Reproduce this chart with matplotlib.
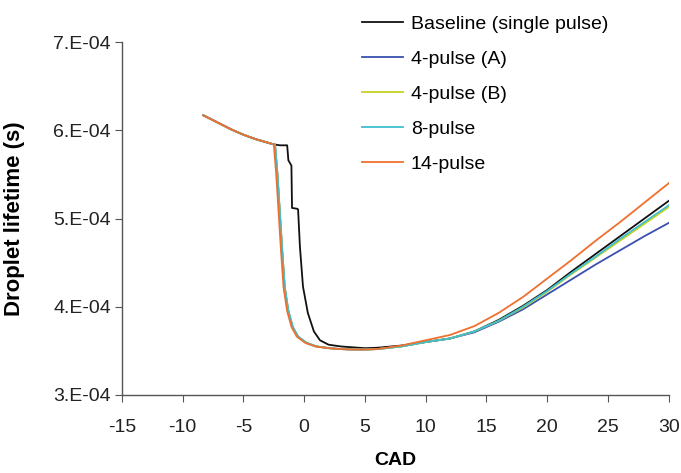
import matplotlib
matplotlib.use('Agg')
import matplotlib.pyplot as plt
from matplotlib.ticker import FixedLocator, FuncFormatter

plt.rcParams['font.family'] = ['Liberation Sans', 'DejaVu Sans']
plt.rcParams['axes.unicode_minus'] = False

# shared early part (before injection effect), lifetime in 1e-4 s
cad_early  = [-8.3, -7.0, -6.0, -5.0, -4.0, -3.0, -2.5]
life_early = [6.17, 6.08, 6.01, 5.95, 5.90, 5.86, 5.84]

cad_late = [8.0, 10.0, 12.0, 14.0, 16.0, 18.0, 20.0, 22.0, 24.0, 26.0, 28.0, 30.0]

cad_base = cad_early + [-2.0, -1.4, -1.3, -1.05, -1.0, -0.55, -0.5, -0.35, -0.1, 0.3, 0.8,
                        1.3, 2.0, 3.0, 4.0, 5.0, 6.0] + cad_late
life_base = life_early + [5.83, 5.83, 5.66, 5.60, 5.12, 5.11, 5.10, 4.68, 4.23, 3.93, 3.72,
                          3.62, 3.57, 3.55, 3.54, 3.53, 3.535,
                          3.56, 3.60, 3.64, 3.72, 3.85, 4.01, 4.19, 4.40, 4.60, 4.80, 5.00, 5.20]

cad_drop = [-2.4, -2.2, -2.0, -1.8, -1.6, -1.3, -0.94, -0.5, 0.2, 1.0, 2.1, 3.0, 4.0, 5.0, 6.0]
life_drop = [5.84, 5.50, 5.06, 4.62, 4.22, 3.95, 3.77, 3.66, 3.59, 3.55, 3.53, 3.52, 3.515, 3.515, 3.52]
cad_drop_14 = [-2.5, -2.3, -2.1, -1.9, -1.7, -1.4, -1.04, -0.6, 0.1, 0.9, 2.0, 3.0, 4.0, 5.0, 6.0]

life_4a_late  = [3.55, 3.60, 3.64, 3.71, 3.83, 3.97, 4.14, 4.31, 4.48, 4.64, 4.80, 4.95]
life_4b_late  = [3.55, 3.60, 3.64, 3.72, 3.84, 3.99, 4.17, 4.37, 4.56, 4.75, 4.94, 5.13]
life_8_late   = [3.55, 3.60, 3.64, 3.72, 3.84, 4.00, 4.18, 4.38, 4.57, 4.77, 4.96, 5.15]
life_14_late  = [3.56, 3.62, 3.68, 3.78, 3.93, 4.11, 4.32, 4.53, 4.75, 4.96, 5.18, 5.40]

series = [
    ('Baseline (single pulse)', cad_base, life_base, '#111111'),
    ('4-pulse (A)', cad_early + cad_drop + cad_late, life_early + life_drop + life_4a_late, '#3a4fb0'),
    ('4-pulse (B)', cad_early + cad_drop + cad_late, life_early + life_drop + life_4b_late, '#c5d21e'),
    ('8-pulse', cad_early + cad_drop + cad_late, life_early + life_drop + life_8_late, '#3fbfd0'),
    ('14-pulse', cad_early + cad_drop_14 + cad_late, life_early + life_drop + life_14_late, '#ef6f2e'),
]

fig = plt.figure(figsize=(6.81, 4.73), dpi=100)
ax = fig.add_axes([0.179, 0.165, 0.803, 0.746])

for label, xs, ys, col in series:
    ax.plot(xs, [v * 1e-4 for v in ys], color=col, lw=1.3, label=label)

ax.set_xlim(-15, 30)
ax.set_ylim(3e-4, 7e-4)
ax.xaxis.set_major_locator(FixedLocator(range(-15, 31, 5)))
ax.yaxis.set_major_locator(FixedLocator([3e-4, 4e-4, 5e-4, 6e-4, 7e-4]))
ax.yaxis.set_major_formatter(FuncFormatter(lambda v, p: '%d.E-04' % round(v * 1e4)))

for s in ['top', 'right']:
    ax.spines[s].set_visible(False)
for s in ['left', 'bottom']:
    ax.spines[s].set_color('#555555')
    ax.spines[s].set_linewidth(1.0)
ax.tick_params(direction='out', length=5, color='#555555', labelsize=14, labelcolor='#222222')
ax.tick_params(axis='x', pad=12)
ax.tick_params(axis='y', pad=3)

ax.set_xlabel('CAD', fontsize=14, fontweight='bold', labelpad=12)
ax.set_ylabel('Droplet lifetime (s)', fontsize=16, fontweight='bold', labelpad=20)

fig.legend(loc='upper left', bbox_to_anchor=(0.506, 1.005), frameon=False, fontsize=14,
           handlelength=2.1, handletextpad=0.4, labelspacing=0.9)

fig.savefig('out.png', dpi=100)
plt.close()
